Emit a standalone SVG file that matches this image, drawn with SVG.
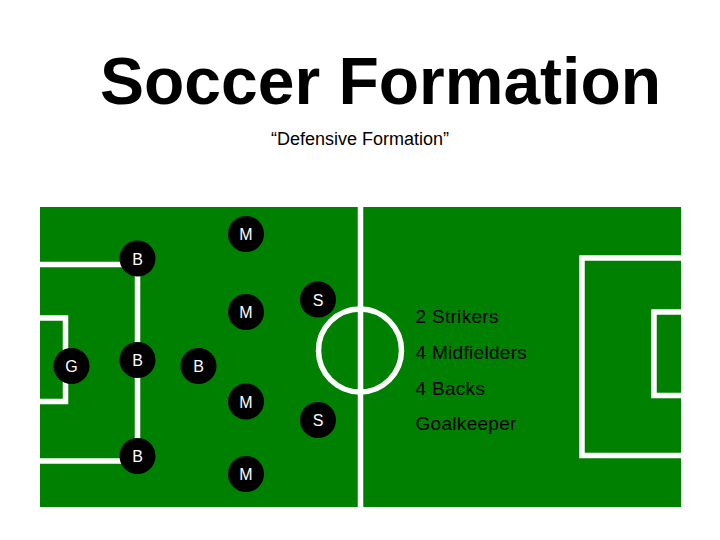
<svg xmlns="http://www.w3.org/2000/svg" width="720" height="540" viewBox="0 0 720 540">
<style>
.line{fill:none;stroke:#fff;stroke-width:5.5}
.p circle{fill:#000}
.p text{fill:#fff;font-family:"Liberation Sans",Arial,sans-serif;font-size:16px;text-anchor:middle}
.leg{fill:#000;font-family:"Liberation Sans",Arial,sans-serif;font-size:19px;letter-spacing:0.3px}
</style>
<rect width="720" height="540" fill="#fff"/>
<text x="380.5" y="104" font-family="Liberation Sans, Arial, sans-serif" font-size="66" font-weight="bold" text-anchor="middle">Soccer Formation</text>
<text x="360" y="145" font-family="Liberation Sans, Arial, sans-serif" font-size="18" text-anchor="middle">“Defensive Formation”</text>
<g id="field">
<rect x="40" y="207" width="641" height="300" fill="#008000"/>
<line class="line" x1="360.5" y1="207" x2="360.5" y2="507" stroke-width="7"/>
<circle class="line" cx="360" cy="350.5" r="41.5" stroke-width="5"/>
<polyline class="line" points="40,264.5 137.5,264.5 137.5,461 40,461"/>
<polyline class="line" points="40,318 65.5,318 65.5,401.5 40,401.5"/>
<polyline class="line" points="681,258 582,258 582,455.5 681,455.5"/>
<polyline class="line" points="681,312 654,312 654,395.5 681,395.5"/>
</g>
<g id="legend">
<text class="leg" x="415.5" y="322.5">2 Strikers</text>
<text class="leg" x="415.5" y="358.5">4 Midfielders</text>
<text class="leg" x="415.5" y="394.5">4 Backs</text>
<text class="leg" x="415.5" y="430">Goalkeeper</text>
</g>
<g id="G" class="p"><circle cx="71.5" cy="366" r="18"/><text x="71.5" y="372">G</text></g>
<g id="B1" class="p"><circle cx="137.5" cy="258.5" r="18"/><text x="137.5" y="264.5">B</text></g>
<g id="B2" class="p"><circle cx="137.5" cy="360" r="18"/><text x="137.5" y="366">B</text></g>
<g id="B3" class="p"><circle cx="137.5" cy="456" r="18"/><text x="137.5" y="462">B</text></g>
<g id="B4" class="p"><circle cx="198.5" cy="366" r="18"/><text x="198.5" y="372">B</text></g>
<g id="M1" class="p"><circle cx="246" cy="234" r="18"/><text x="246" y="240">M</text></g>
<g id="M2" class="p"><circle cx="246" cy="312" r="18"/><text x="246" y="318">M</text></g>
<g id="M3" class="p"><circle cx="246" cy="401.5" r="18"/><text x="246" y="407.5">M</text></g>
<g id="M4" class="p"><circle cx="246" cy="474" r="18"/><text x="246" y="480">M</text></g>
<g id="S1" class="p"><circle cx="318" cy="299.5" r="18"/><text x="318" y="305.5">S</text></g>
<g id="S2" class="p"><circle cx="318" cy="420" r="18"/><text x="318" y="426">S</text></g>
</svg>
